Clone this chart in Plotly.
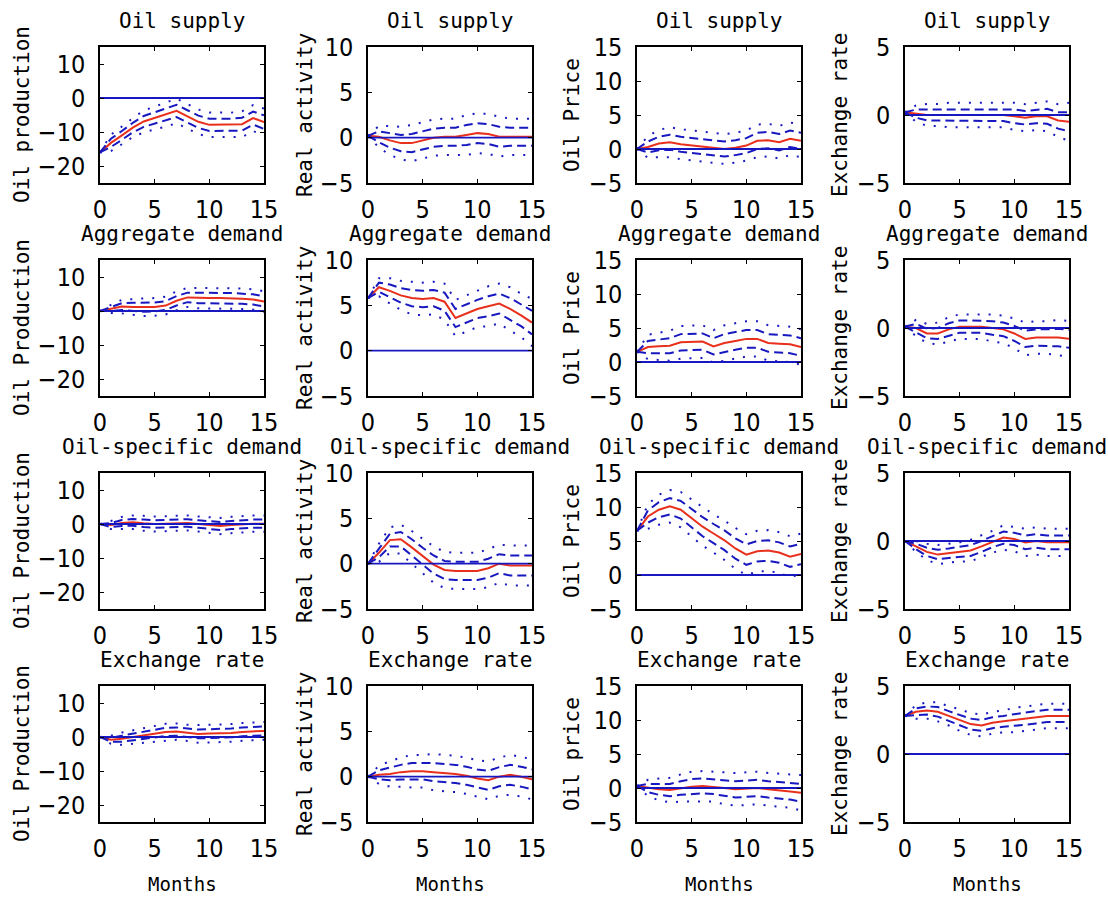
import plotly.graph_objects as go

# horizons (months after the shock)
MONTHS = list(range(16))

SHOCKS = ["Oil supply", "Aggregate demand", "Oil-specific demand", "Exchange rate"]
YLABELS = [
    ["Oil production", "Real activity", "Oil Price", "Exchange rate"],
    ["Oil Production", "Real activity", "Oil Price", "Exchange rate"],
    ["Oil Production", "Real activity", "Oil Price", "Exchange rate"],
    ["Oil Production", "Real activity", "Oil price", "Exchange rate"],
]
YRANGES = [[-25, 15], [-5, 10], [-5, 15], [-5, 5]]
YTICKS = [[-20, -10, 0, 10], [-5, 0, 5, 10], [-5, 0, 5, 10, 15], [-5, 0, 5]]
XTICKS = [0, 5, 10, 15]

# impulse responses and their standard errors
SUP_PROD = [-16, -13.2, -11.0, -8.7, -6.9, -5.9, -4.8, -3.8, -5.4, -7.0, -7.9, -7.9, -7.9, -7.7, -5.9, -7.1]
SUP_PROD_SE = [0, 1.2, 1.3, 1.4, 1.6, 1.7, 1.8, 1.8, 1.8, 1.8, 1.8, 1.8, 1.8, 1.9, 1.9, 2.0]
SUP_REA = [0.2, 0.1, -0.3, -0.6, -0.6, -0.3, 0.0, 0.1, 0.1, 0.3, 0.5, 0.4, 0.1, 0.1, 0.1, 0.1]
SUP_REA_SE = [0, 0.6, 0.8, 0.9, 1.0, 1.0, 1.0, 1.0, 1.0, 1.1, 1.1, 1.1, 1.1, 1.0, 1.0, 1.0]
SUP_POIL = [0, 0.3, 0.8, 1.0, 0.7, 0.5, 0.4, 0.1, 0.0, 0.2, 0.5, 1.2, 1.3, 1.0, 1.5, 1.2]
SUP_POIL_SE = [0, 0.8, 1.0, 1.1, 1.1, 1.1, 1.1, 1.1, 1.1, 1.1, 1.1, 1.2, 1.2, 1.2, 1.2, 1.2]
SUP_FX = [0.2, 0.1, 0.0, 0.0, 0.0, 0.0, 0.0, 0.0, 0.0, 0.0, -0.1, -0.2, -0.1, -0.1, -0.4, -0.5]
SUP_FX_SE = [0, 0.3, 0.4, 0.4, 0.45, 0.45, 0.45, 0.45, 0.45, 0.45, 0.5, 0.5, 0.5, 0.55, 0.6, 0.7]

AGG_PROD = [0, 0.6, 1.3, 1.2, 1.1, 1.2, 1.6, 3.0, 4.0, 3.8, 3.8, 3.8, 3.8, 3.6, 3.4, 2.8]
AGG_PROD_SE = [0, 0.6, 1.0, 1.2, 1.3, 1.3, 1.3, 1.4, 1.4, 1.5, 1.5, 1.5, 1.5, 1.5, 1.5, 1.5]
AGG_REA = [5.8, 7.0, 6.6, 6.1, 5.8, 5.7, 5.8, 5.4, 3.6, 4.1, 4.6, 4.9, 5.2, 4.6, 3.9, 3.1]
AGG_REA_SE = [0, 0.5, 0.7, 0.8, 0.9, 0.9, 0.9, 1.0, 1.0, 1.0, 1.0, 1.1, 1.1, 1.2, 1.2, 1.3]
AGG_POIL = [1.5, 2.2, 2.3, 2.4, 2.9, 3.0, 3.0, 2.3, 2.8, 3.1, 3.4, 3.4, 2.8, 2.7, 2.6, 2.2]
AGG_POIL_SE = [0, 0.9, 1.0, 1.1, 1.2, 1.2, 1.2, 1.2, 1.3, 1.3, 1.3, 1.3, 1.3, 1.3, 1.3, 1.3]
AGG_FX = [0.1, 0.0, -0.4, -0.4, -0.1, 0.1, 0.1, 0.1, 0.0, -0.1, -0.4, -0.8, -0.7, -0.7, -0.7, -0.8]
AGG_FX_SE = [0, 0.3, 0.35, 0.4, 0.45, 0.45, 0.45, 0.45, 0.5, 0.5, 0.55, 0.6, 0.6, 0.6, 0.65, 0.65]

OSD_PROD = [0, -0.3, 0.3, 0.5, 0.2, 0.0, 0.1, 0.3, 0.3, 0.0, -0.3, -0.6, -0.3, 0.0, 0.1, 0.1]
OSD_PROD_SE = [0, 0.6, 0.9, 1.0, 1.1, 1.1, 1.1, 1.1, 1.1, 1.1, 1.1, 1.2, 1.2, 1.2, 1.2, 1.2]
OSD_REA = [0, 1.2, 2.6, 2.7, 1.8, 0.8, -0.1, -0.7, -0.8, -0.8, -0.8, -0.5, 0.0, -0.2, -0.2, -0.2]
OSD_REA_SE = [0, 0.5, 0.7, 0.8, 0.9, 0.95, 1.0, 1.0, 1.0, 1.0, 1.0, 1.05, 1.05, 1.1, 1.1, 1.1]
OSD_POIL = [6.5, 8.6, 9.6, 10.1, 9.6, 8.4, 7.1, 6.1, 5.1, 3.9, 3.0, 3.5, 3.6, 3.3, 2.7, 3.1]
OSD_POIL_SE = [0, 0.9, 1.1, 1.2, 1.3, 1.35, 1.4, 1.4, 1.45, 1.5, 1.5, 1.5, 1.5, 1.5, 1.5, 1.5]
OSD_FX = [0, -0.4, -0.8, -1.0, -0.9, -0.8, -0.7, -0.4, -0.05, 0.25, 0.15, -0.1, 0.0, -0.1, -0.1, -0.1]
OSD_FX_SE = [0, 0.2, 0.3, 0.35, 0.35, 0.35, 0.4, 0.4, 0.4, 0.45, 0.45, 0.5, 0.5, 0.5, 0.5, 0.5]

FX_PROD = [0, -0.8, -0.5, 0.0, 0.5, 1.0, 1.5, 1.6, 1.2, 0.9, 1.0, 1.0, 1.2, 1.5, 1.6, 1.8]
FX_PROD_SE = [0, 0.6, 0.9, 1.0, 1.1, 1.2, 1.2, 1.2, 1.2, 1.3, 1.3, 1.3, 1.3, 1.3, 1.3, 1.3]
FX_REA = [0, 0.2, 0.3, 0.5, 0.6, 0.6, 0.5, 0.4, 0.3, 0.1, -0.2, -0.4, 0.0, 0.2, 0.0, -0.3]
FX_REA_SE = [0, 0.5, 0.7, 0.8, 0.9, 0.9, 1.0, 1.0, 1.0, 1.0, 1.0, 1.05, 1.05, 1.1, 1.1, 1.1]
FX_POIL = [0.3, 0.0, -0.2, -0.3, 0.0, 0.2, 0.3, 0.2, 0.0, -0.2, -0.1, 0.0, -0.2, -0.3, -0.5, -0.7]
FX_POIL_SE = [0, 0.6, 0.8, 0.9, 1.0, 1.1, 1.1, 1.1, 1.2, 1.2, 1.2, 1.2, 1.2, 1.2, 1.2, 1.3]
FX_FX = [2.8, 3.1, 3.2, 3.1, 2.8, 2.5, 2.2, 2.1, 2.3, 2.4, 2.5, 2.6, 2.7, 2.8, 2.8, 2.8]
FX_FX_SE = [0, 0.25, 0.3, 0.35, 0.35, 0.4, 0.4, 0.4, 0.4, 0.4, 0.45, 0.45, 0.45, 0.45, 0.45, 0.45]

RESPONSES = [
    [(SUP_PROD, SUP_PROD_SE), (SUP_REA, SUP_REA_SE), (SUP_POIL, SUP_POIL_SE), (SUP_FX, SUP_FX_SE)],
    [(AGG_PROD, AGG_PROD_SE), (AGG_REA, AGG_REA_SE), (AGG_POIL, AGG_POIL_SE), (AGG_FX, AGG_FX_SE)],
    [(OSD_PROD, OSD_PROD_SE), (OSD_REA, OSD_REA_SE), (OSD_POIL, OSD_POIL_SE), (OSD_FX, OSD_FX_SE)],
    [(FX_PROD, FX_PROD_SE), (FX_REA, FX_REA_SE), (FX_POIL, FX_POIL_SE), (FX_FX, FX_FX_SE)],
]

W, H = 1108, 899
PLOT_LEFT = [100, 368, 637, 905]
PLOT_TOP = [47, 260, 473, 686]
PLOT_W, PLOT_H = 164, 136
YLABEL_OFFSET = [78, 63, 65, 65]  # label centre distance left of the axes box

RED = "#e8301c"
BLUE = "#1818c0"
TEXT_FONT = dict(family="DejaVu Sans Mono, monospace", size=21, color="black")
XLABEL_FONT = dict(family="DejaVu Sans Mono, monospace", size=19, color="black")
TICK_FONT = dict(family="Liberation Sans Narrow, DejaVu Sans Condensed, sans-serif",
                 size=25, color="black")

fig = go.Figure()
annotations = []

for r in range(4):
    for c in range(4):
        n = r * 4 + c + 1
        xa, ya = f"x{n}", f"y{n}"
        resp, se = RESPONSES[r][c]
        up1 = [v + s for v, s in zip(resp, se)]
        lo1 = [v - s for v, s in zip(resp, se)]
        up2 = [v + 2 * s for v, s in zip(resp, se)]
        lo2 = [v - 2 * s for v, s in zip(resp, se)]

        fig.add_trace(go.Scatter(x=MONTHS, y=resp, mode="lines", xaxis=xa, yaxis=ya,
                                 line=dict(color=RED, width=2), showlegend=False))
        for band in (up1, lo1):
            fig.add_trace(go.Scatter(x=MONTHS, y=band, mode="lines", xaxis=xa, yaxis=ya,
                                     line=dict(color=BLUE, width=2, dash="9px,5px"),
                                     showlegend=False))
        for band in (up2, lo2):
            fig.add_trace(go.Scatter(x=MONTHS, y=band, mode="lines", xaxis=xa, yaxis=ya,
                                     line=dict(color=BLUE, width=2, dash="2px,9px"),
                                     showlegend=False))
        fig.add_trace(go.Scatter(x=[MONTHS[0], MONTHS[-1]], y=[0, 0], mode="lines",
                                 xaxis=xa, yaxis=ya, line=dict(color=BLUE, width=1.8),
                                 showlegend=False))

        x0 = PLOT_LEFT[c] / W
        x1 = (PLOT_LEFT[c] + PLOT_W) / W
        y1 = 1 - PLOT_TOP[r] / H
        y0 = 1 - (PLOT_TOP[r] + PLOT_H) / H
        common = dict(showline=True, linecolor="black", linewidth=1.5, mirror="ticks",
                      ticks="inside", ticklen=4, tickwidth=1.3, tickcolor="black",
                      showgrid=False, zeroline=False, tickfont=TICK_FONT,
                      fixedrange=True, automargin=False)
        fig.update_layout({
            f"xaxis{n}": dict(domain=[x0, x1], anchor=ya, range=[0, 15],
                              tickvals=XTICKS, ticklabelstandoff=3, **common),
            f"yaxis{n}": dict(domain=[y0, y1], anchor=xa, range=YRANGES[c],
                              tickvals=YTICKS[c], ticklabelstandoff=8, **common),
        })

        cx = (PLOT_LEFT[c] + PLOT_W / 2) / W
        annotations.append(dict(text=SHOCKS[r], x=cx, y=1 - (PLOT_TOP[r] - 26) / H,
                                xref="paper", yref="paper", showarrow=False,
                                xanchor="center", yanchor="middle", font=TEXT_FONT))
        annotations.append(dict(text=YLABELS[r][c], textangle=-90,
                                x=(PLOT_LEFT[c] - YLABEL_OFFSET[c]) / W,
                                y=1 - (PLOT_TOP[r] + PLOT_H / 2) / H,
                                xref="paper", yref="paper", showarrow=False,
                                xanchor="center", yanchor="middle", font=TEXT_FONT))
        if r == 3:
            annotations.append(dict(text="Months", x=cx, y=1 - 884 / H,
                                    xref="paper", yref="paper", showarrow=False,
                                    xanchor="center", yanchor="middle", font=XLABEL_FONT))

fig.update_layout(
    width=W, height=H,
    margin=dict(l=0, r=0, t=0, b=0, pad=0, autoexpand=False),
    paper_bgcolor="white", plot_bgcolor="white",
    annotations=annotations,
    showlegend=False,
)

# page body margin would otherwise push the figure 8px off the window
fig.write_html("out.html", config={"displayModeBar": False},
               post_script="document.body.style.margin='0';")
